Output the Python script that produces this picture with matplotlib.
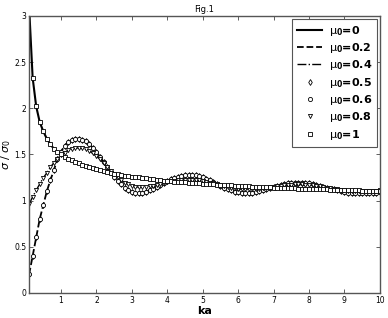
import numpy as np
import matplotlib
matplotlib.use('Agg')
import matplotlib.pyplot as plt

# ka grid 0.1 .. 10.0
ka = np.round(np.arange(1, 101) * 0.1, 1)

# mu0 = 0 (and mu0 = 1, which sits on it)
sig_mu0 = [3.10, 2.33, 2.02, 1.85, 1.75, 1.67, 1.61, 1.56, 1.53, 1.50,
           1.475, 1.455, 1.435, 1.42, 1.405, 1.39, 1.375, 1.36, 1.35, 1.34,
           1.33, 1.32, 1.31, 1.30, 1.29, 1.285, 1.28, 1.27, 1.265, 1.26,
           1.255, 1.25, 1.245, 1.24, 1.235, 1.23, 1.225, 1.22, 1.217, 1.213,
           1.21, 1.206, 1.203, 1.20, 1.197, 1.194, 1.191, 1.188, 1.185, 1.183,
           1.18, 1.178, 1.175, 1.173, 1.17, 1.168, 1.166, 1.164, 1.162, 1.16,
           1.158, 1.156, 1.154, 1.152, 1.15, 1.148, 1.146, 1.145, 1.143, 1.141,
           1.14, 1.138, 1.136, 1.135, 1.133, 1.132, 1.13, 1.129, 1.127, 1.126,
           1.125, 1.123, 1.122, 1.121, 1.12, 1.118, 1.117, 1.116, 1.115, 1.114,
           1.113, 1.111, 1.11, 1.109, 1.108, 1.107, 1.106, 1.105, 1.104, 1.103]

# mu0 = 0.2 (diamonds 0.5 and circles 0.6 lie on it)
sig_mu02 = [0.20, 0.40, 0.60, 0.80, 0.95, 1.10, 1.22, 1.33, 1.45, 1.53,
            1.59, 1.635, 1.66, 1.672, 1.67, 1.66, 1.64, 1.61, 1.57, 1.525,
            1.475, 1.42, 1.365, 1.31, 1.26, 1.215, 1.175, 1.14, 1.11, 1.09,
            1.08, 1.08, 1.085, 1.095, 1.11, 1.13, 1.15, 1.17, 1.19, 1.21,
            1.23, 1.245, 1.26, 1.27, 1.277, 1.28, 1.278, 1.272, 1.262, 1.25,
            1.235, 1.218, 1.20, 1.18, 1.16, 1.14, 1.125, 1.11, 1.098, 1.09,
            1.085, 1.082, 1.082, 1.085, 1.09, 1.10, 1.11, 1.122, 1.135, 1.148,
            1.16, 1.17, 1.178, 1.185, 1.19, 1.193, 1.195, 1.195, 1.192, 1.187,
            1.18, 1.172, 1.162, 1.152, 1.14, 1.13, 1.12, 1.11, 1.10, 1.093,
            1.087, 1.082, 1.079, 1.077, 1.077, 1.078, 1.08, 1.083, 1.087, 1.092]

# mu0 = 0.4 (triangles 0.8 lie on it)
sig_mu04 = [0.96, 1.04, 1.11, 1.18, 1.245, 1.30, 1.36, 1.41, 1.45, 1.49,
            1.52, 1.545, 1.56, 1.568, 1.57, 1.565, 1.553, 1.535, 1.51, 1.48,
            1.445, 1.405, 1.365, 1.325, 1.285, 1.25, 1.22, 1.195, 1.175, 1.16,
            1.15, 1.145, 1.145, 1.148, 1.155, 1.163, 1.172, 1.182, 1.192, 1.20,
            1.208, 1.215, 1.22, 1.224, 1.226, 1.227, 1.226, 1.223, 1.218, 1.212,
            1.204, 1.195, 1.185, 1.175, 1.165, 1.155, 1.146, 1.138, 1.131, 1.126,
            1.122, 1.12, 1.12, 1.121, 1.124, 1.128, 1.133, 1.139, 1.145, 1.151,
            1.157, 1.162, 1.166, 1.17, 1.172, 1.174, 1.175, 1.175, 1.173, 1.17,
            1.166, 1.161, 1.155, 1.148, 1.141, 1.134, 1.127, 1.121, 1.115, 1.11,
            1.106, 1.103, 1.101, 1.10, 1.10, 1.101, 1.102, 1.104, 1.107, 1.11]

sig_mu05 = sig_mu02
sig_mu06 = sig_mu02
sig_mu08 = sig_mu04
sig_mu1 = sig_mu0

fig = plt.figure(figsize=(3.88, 3.18), dpi=100)
ax = fig.add_axes([0.075, 0.079, 0.904, 0.871])

ax.plot(ka, sig_mu0, 'k-', lw=1.5, label=r'$\mathrm{\mu}_\mathbf{0}$=0')
ax.plot(ka, sig_mu02, 'k--', lw=1.3, label=r'$\mathrm{\mu}_\mathbf{0}$=0.2')
ax.plot(ka, sig_mu04, 'k-.', lw=1.0, label=r'$\mathrm{\mu}_\mathbf{0}$=0.4')
mk = dict(ls='none', mfc='white', mec='k', mew=0.6, ms=3)
ax.plot(ka, sig_mu05, marker='d', label=r'$\mathrm{\mu}_\mathbf{0}$=0.5', **mk)
ax.plot(ka, sig_mu06, marker='o', label=r'$\mathrm{\mu}_\mathbf{0}$=0.6', **mk)
ax.plot(ka, sig_mu08, marker='v', label=r'$\mathrm{\mu}_\mathbf{0}$=0.8', **mk)
ax.plot(ka, sig_mu1, marker='s', label=r'$\mathrm{\mu}_\mathbf{0}$=1', **mk)

ax.set_xlim(0.1, 10)
ax.set_ylim(0, 3)
ax.set_xticks(range(1, 11))
ax.set_yticks([0, 0.5, 1, 1.5, 2, 2.5, 3])
ax.set_yticklabels(['0', '0.5', '1', '1.5', '2', '2.5', '3'])
ax.tick_params(direction='in', top=True, right=True, labelsize=5.5,
               length=3, width=0.6, color='#444444', pad=2)
for s in ax.spines.values():
    s.set_color('#555555')
    s.set_linewidth(1.0)

ax.set_title('Fig.1', fontsize=6, pad=3)
ax.set_xlabel('ka', fontsize=8, fontweight='bold', labelpad=1)
ax.set_ylabel(r'$\sigma$ / $\sigma_0$', fontsize=8, labelpad=1)

leg = ax.legend(loc='upper right', prop={'weight': 'bold', 'size': 8},
                numpoints=1, fancybox=False, framealpha=1, edgecolor='#555555',
                handlelength=2.2, borderaxespad=0.25, labelspacing=0.3,
                handletextpad=0.6, borderpad=0.45)
leg.get_frame().set_linewidth(0.8)

plt.savefig('out.png', dpi=100)
